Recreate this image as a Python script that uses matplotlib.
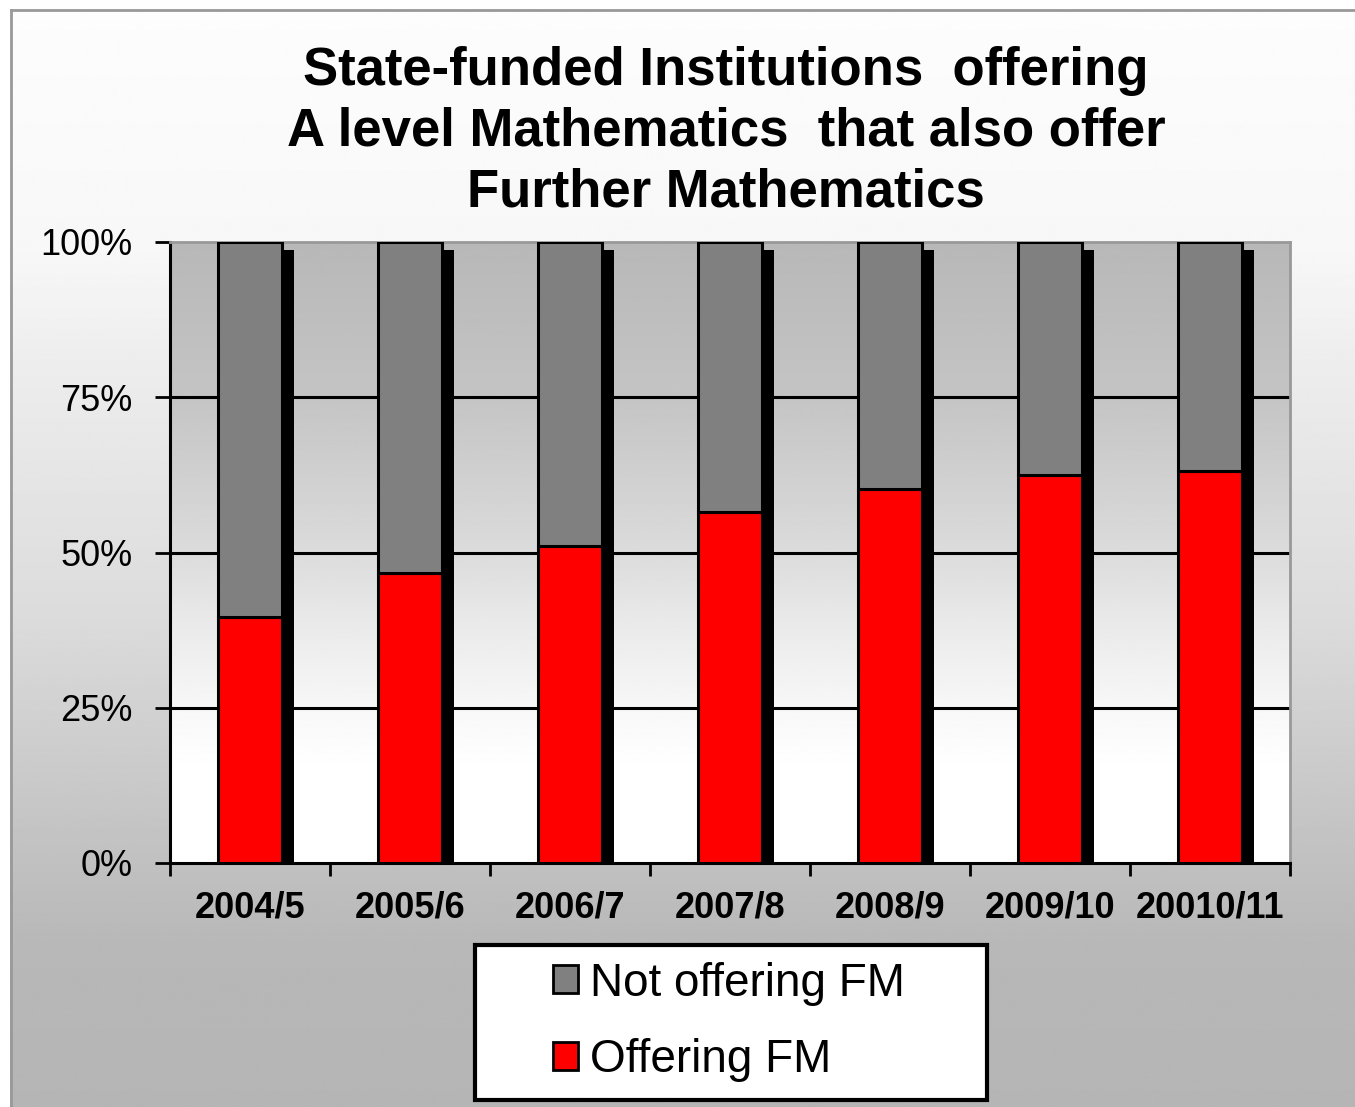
import numpy as np
from matplotlib import pyplot as plt
from matplotlib.patches import Rectangle, Patch

plt.rcParams['font.family'] = ['Liberation Sans', 'DejaVu Sans']

# data (percent of institutions)
years = ['2004/5', '2005/6', '2006/7', '2007/8', '2008/9', '2009/10', '20010/11']
offering = [39.6, 46.7, 51.1, 56.5, 60.3, 62.5, 63.1]
not_offering = [100 - v for v in offering]
y_ticks = [0, 25, 50, 75, 100]

W, H = 1355, 1107
fig = plt.figure(figsize=(W / 100, H / 100), dpi=100)
fig.patch.set_facecolor('white')

# background of the chart area: light at top, grey at bottom
bg = fig.add_axes([10 / W, 0, 1 - 10 / W, 1 - 9 / H], zorder=-2)
yy = np.linspace(9, H, 400)
shade = np.interp(yy, [9, 250, 360, 620, 850, 950, H],
                  [0.99, 0.97, 0.93, 0.86, 0.76, 0.72, 0.71])
bg.imshow(np.repeat(shade[:, None], 2, axis=1), cmap='gray', vmin=0, vmax=1,
          aspect='auto', extent=[0, 1, 0, 1], interpolation='bilinear')
bg.set_xlim(0, 1)
bg.set_ylim(0, 1)
bg.axis('off')
fig.add_artist(plt.Line2D([11 / W, 11 / W], [0, 1 - 10 / H], color='#999999', lw=2))
fig.add_artist(plt.Line2D([11 / W, 1], [1 - 10 / H, 1 - 10 / H], color='#999999', lw=2))

ax = fig.add_axes([170 / W, 1 - 863 / H, 1120 / W, 621 / H])
x = np.arange(len(years))

# plot area gradient: grey at top to white at bottom
t = np.linspace(0, 1, 300)
pshade = np.interp(t, [0, 0.25, 0.5, 0.6, 0.75, 0.85, 1],
                   [0.72, 0.77, 0.86, 0.91, 0.97, 1.0, 1.0])
ax.imshow(np.repeat(pshade[:, None], 2, axis=1), cmap='gray', vmin=0, vmax=1,
          aspect='auto', extent=[-0.5, 6.5, 0, 100], interpolation='bilinear', zorder=0)

for v in [25, 50, 75]:
    ax.axhline(v, color='black', lw=2.2, zorder=1)

bw = 0.4
# drop shadow behind each bar
ax.bar(x + 0.075, [98.7] * len(x), bw, color='black', zorder=2)
ax.bar(x, offering, bw, color='#ff0000', edgecolor='black', lw=2.2, zorder=3)
ax.bar(x, not_offering, bw, bottom=offering, color='#808080', edgecolor='black',
       lw=2.2, zorder=3)

ax.set_xlim(-0.5, 6.5)
ax.set_ylim(0, 100)
ax.set_yticks(y_ticks)
ax.set_yticklabels([f'{v}%' for v in y_ticks], fontsize=26)
ax.set_xticks(x)
ax.set_xticklabels(years, fontsize=26, fontweight='bold')
ax.set_xticks(np.arange(-0.5, 7, 1), minor=True)
ax.tick_params(axis='x', which='major', length=0, pad=20)
ax.tick_params(axis='x', which='minor', length=9, width=2, direction='out')
ax.tick_params(axis='y', length=11, width=2, pad=16)
for s in ['left', 'bottom']:
    ax.spines[s].set_linewidth(2.2)
for s in ['top', 'right']:
    ax.spines[s].set_color('#999999')
    ax.spines[s].set_linewidth(2)

fig.text(726 / W, 1 - 132 / H,
         'State-funded Institutions  offering\nA level Mathematics  that also offer\nFurther Mathematics',
         ha='center', va='center', fontsize=38, fontweight='bold', linespacing=1.27)

# legend box
fig.add_artist(Rectangle((475 / W, 1 - 1100 / H), 512 / W, 155 / H,
                         transform=fig.transFigure, facecolor='white',
                         edgecolor='black', lw=3, zorder=3))
handles = [Patch(facecolor='#808080', edgecolor='black', lw=2),
           Patch(facecolor='#ff0000', edgecolor='black', lw=2)]
leg = fig.legend(handles, ['Not offering FM', 'Offering FM'], loc='center',
                 bbox_to_anchor=(729 / W, 1 - 1022 / H), frameon=False,
                 fontsize=33, handlelength=0.55, handleheight=0.55,
                 handletextpad=0.25, labelspacing=0.72)
leg.set_zorder(4)

fig.savefig('out.png', dpi=100)
